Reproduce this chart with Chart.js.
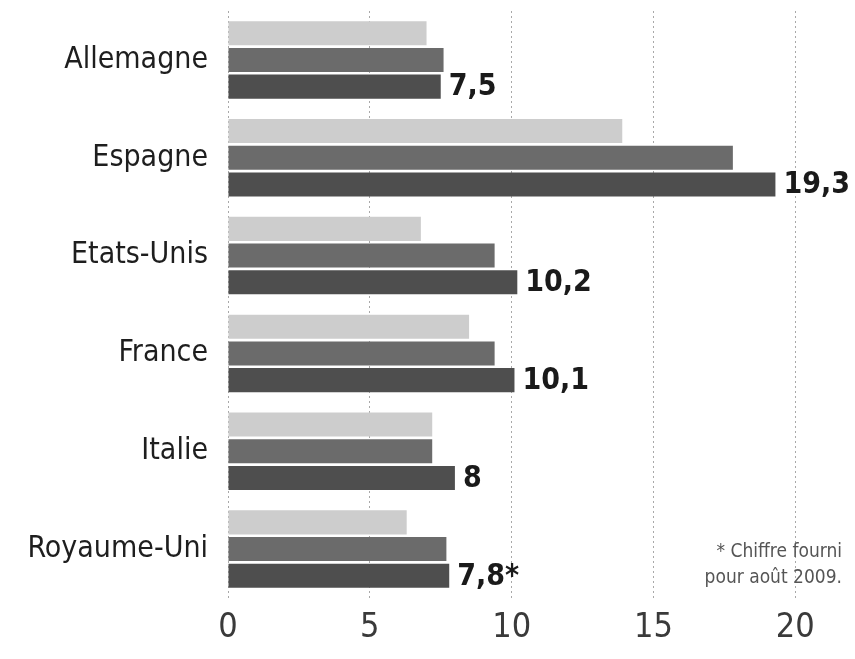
<!DOCTYPE html>
<html>
<head>
<meta charset="utf-8">
<script src="https://cdn.jsdelivr.net/npm/chart.js@4"></script>
<style>
  html, body { margin: 0; padding: 0; background: #fff; }
  #wrap { width: 855px; height: 659px; position: relative; }
</style>
</head>
<body>
<div id="wrap"><canvas id="c" width="855" height="659"></canvas></div>
<script>
const categories = ["Allemagne", "Espagne", "Etats-Unis", "France", "Italie", "Royaume-Uni"];
const series1 = [7.0, 13.9, 6.8, 8.5, 7.2, 6.3];
const series2 = [7.6, 17.8, 9.4, 9.4, 7.2, 7.7];
const series3 = [7.5, 19.3, 10.2, 10.1, 8.0, 7.8];
const valueLabels = ["7,5", "19,3", "10,2", "10,1", "8", "7,8*"];
const xTicks = [0, 5, 10, 15, 20];
const footnote = ["* Chiffre fourni", "pour août 2009."];

const NARROW = "'Liberation Sans Narrow', 'DejaVu Sans Condensed', 'Arial Narrow', sans-serif";

const labelPlugin = {
  id: 'valueLabels',
  afterDatasetsDraw(chart) {
    const ctx = chart.ctx;
    const meta = chart.getDatasetMeta(2);
    ctx.save();
    ctx.font = "bold 30px " + NARROW;
    ctx.fillStyle = "#1a1a1a";
    ctx.textAlign = "left";
    ctx.textBaseline = "middle";
    meta.data.forEach((bar, i) => {
      ctx.fillText(valueLabels[i], bar.x + 8, bar.y + 1);
    });
    ctx.font = "19px " + NARROW;
    ctx.fillStyle = "#555";
    ctx.textAlign = "right";
    ctx.textBaseline = "middle";
    const right = chart.chartArea.right - 10;
    ctx.fillText(footnote[0], right, 552);
    ctx.fillText(footnote[1], right, 578);
    ctx.restore();
  }
};

new Chart(document.getElementById('c'), {
  type: 'bar',
  data: {
    labels: categories,
    datasets: [
      { data: series1, backgroundColor: '#cdcdcd' },
      { data: series2, backgroundColor: '#6b6b6b' },
      { data: series3, backgroundColor: '#4e4e4e' }
    ]
  },
  options: {
    indexAxis: 'y',
    responsive: false,
    animation: false,
    layout: { padding: { top: 11, right: 3, left: 0, bottom: 0 } },
    categoryPercentage: 0.82,
    barPercentage: 0.9,
    plugins: { legend: { display: false }, tooltip: { enabled: false } },
    scales: {
      x: {
        min: 0, max: 22,
        afterBuildTicks(scale) { scale.ticks = xTicks.map(v => ({ value: v })); },
        afterFit(scale) { scale.height = 61; },
        border: { display: false, dash: [2, 3] },
        grid: { color: '#a8a8a8', lineWidth: 1, drawTicks: false },
        ticks: { padding: 10, color: '#3a3a3a', font: { family: NARROW, size: 34 } }
      },
      y: {
        afterFit(scale) { scale.width = 228; scale.paddingTop = 0; scale.paddingBottom = 0; },
        border: { display: false },
        grid: { display: false },
        ticks: { padding: 12, color: '#1e1e1e', font: { family: NARROW, size: 30 } }
      }
    }
  },
  plugins: [labelPlugin]
});
</script>
</body>
</html>
